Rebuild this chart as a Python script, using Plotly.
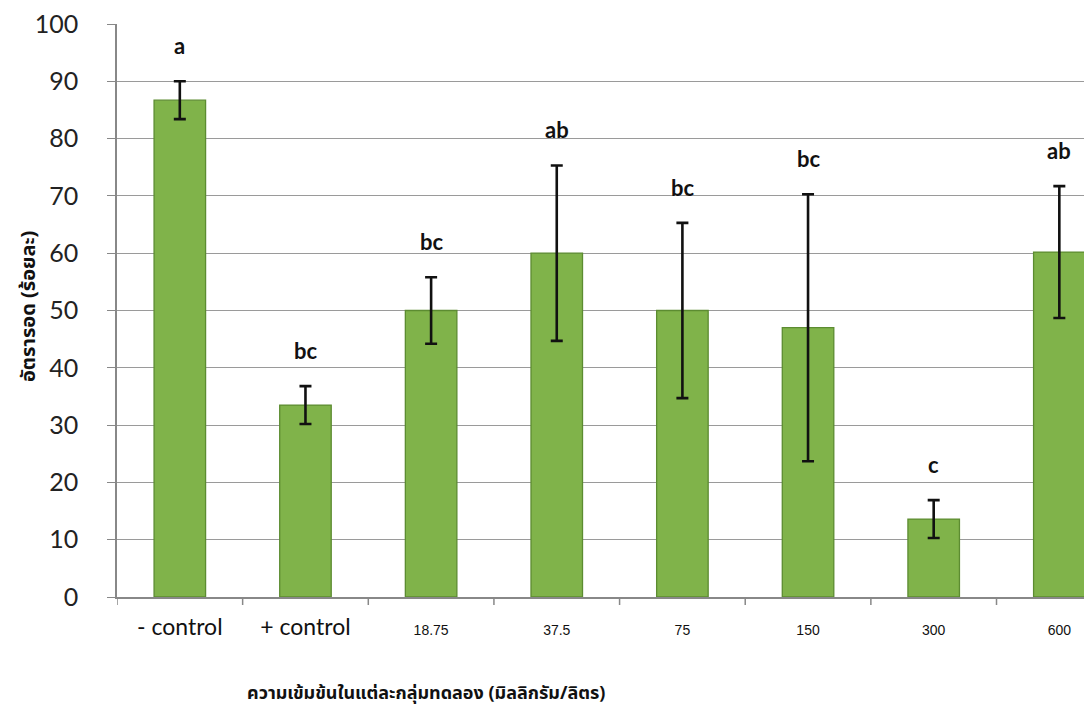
import plotly.graph_objects as go

categories = ["- control", "+ control", "18.75", "37.5", "75", "150", "300", "600"]
survival = [86.7, 33.5, 50.0, 60.0, 50.0, 47.0, 13.6, 60.2]
errors = [3.3, 3.3, 5.8, 15.3, 15.3, 23.3, 3.3, 11.5]
letters = ["a", "bc", "bc", "ab", "bc", "bc", "c", "ab"]

tick_text = []
for c in categories:
    if "control" in c:
        tick_text.append(f'<span style="font-size:23px;font-family:Lato">{c}</span>')
    else:
        tick_text.append(f'<span style="font-size:14px;font-family:Arial">{c}</span>')

x_idx = list(range(len(categories)))

W, H = 1084, 702
L, T, B = 109, 16, 113

fig = go.Figure()
fig.add_trace(go.Bar(
    x=x_idx, y=survival, width=0.41,
    marker=dict(color="#80b34a", line=dict(color="#5c8c31", width=1.3)),
    error_y=dict(type="data", array=errors, visible=True, color="#111111", thickness=2.6, width=6),
    showlegend=False,
))

for i, (m, e, l) in enumerate(zip(survival, errors, letters)):
    fig.add_annotation(x=i, y=m + e + 3.5, text=f"<b>{l}</b>", showarrow=False,
                       font=dict(size=22, family="Lato", color="#111111"), yanchor="bottom")

fig.add_annotation(x=(418 - L) / (W - L), xref="paper", y=-0.165, yref="paper",
                   text="<b>ความเข้มข้นในแต่ละกลุ่มทดลอง (มิลลิกรัม/ลิตร)</b>", showarrow=False,
                   xanchor="center", yanchor="middle",
                   font=dict(size=18, family="Noto Sans, Noto Sans Thai, sans-serif", color="#111111"))
fig.add_annotation(x=0, xref="paper", xshift=-(L - 19), y=0.506, yref="paper", textangle=-90,
                   text="<b>อัตรารอด (ร้อยละ)</b>", showarrow=False,
                   xanchor="center", yanchor="middle",
                   font=dict(size=20, family="Noto Sans, Noto Sans Thai, sans-serif", color="#111111"))

fig.update_layout(
    width=W, height=H,
    margin=dict(l=L, r=0, t=T, b=B, autoexpand=False),
    plot_bgcolor="white", paper_bgcolor="white",
    xaxis=dict(
        tickmode="array", tickvals=x_idx, ticktext=tick_text,
        range=[-0.5, 7.26], showgrid=False, showline=True, linecolor="#888888", linewidth=1.5,
        ticks="", ticklabelstandoff=22, tickfont=dict(color="#111111"),
        zeroline=False, automargin=False,
    ),
    yaxis=dict(
        range=[0, 100], tickvals=list(range(0, 101, 10)),
        showgrid=True, gridcolor="#9a9a9a", gridwidth=1.2,
        showline=True, linecolor="#888888", linewidth=1.5,
        ticks="outside", ticklen=8, tickcolor="#888888",
        ticklabelstandoff=24, ticklabeloverflow="allow",
        tickfont=dict(size=25, family="Lato", color="#222222"),
        zeroline=False, automargin=False,
    ),
)

for k in range(len(categories)):
    fig.add_shape(type="line", xref="x", yref="paper", x0=k - 0.5, x1=k - 0.5, y0=0, y1=-0.014,
                  line=dict(color="#888888", width=1.5))

fig.write_html("out.html")
